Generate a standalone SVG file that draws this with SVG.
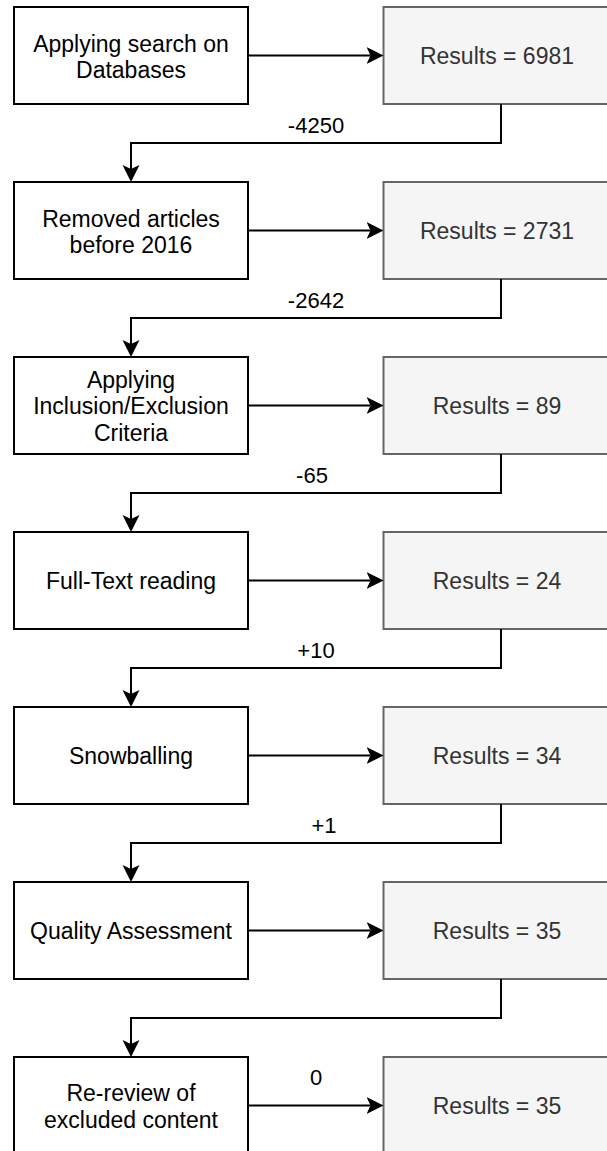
<svg xmlns="http://www.w3.org/2000/svg" width="607" height="1151" viewBox="0 0 607 1151">
  <style>
    .step { fill: #ffffff; stroke: #000000; stroke-width: 2; }
    .result { fill: #f5f5f5; stroke: #666666; stroke-width: 2; }
    .txt { font-family: "Liberation Sans", Arial, sans-serif; font-size: 23px; text-anchor: middle; fill: #000000; }
    .rtxt { font-family: "Liberation Sans", Arial, sans-serif; font-size: 23px; text-anchor: middle; fill: #333333; }
    .lbl { font-family: "Liberation Sans", Arial, sans-serif; font-size: 22px; text-anchor: middle; fill: #000000; }
    .edge { fill: none; stroke: #000000; stroke-width: 2; }
  </style>
  <defs>
    <marker id="arrow" viewBox="0 0 18 18" refX="4" refY="9" markerWidth="18" markerHeight="18" markerUnits="userSpaceOnUse" orient="auto">
      <path d="M17,9 L0,0.5 L4,9 L0,17.5 Z" fill="#000000"/>
    </marker>
  </defs>

  <rect width="607" height="1151" fill="#ffffff"/>

  <!-- process steps (left column) -->
  <g id="step-search">
    <rect class="step" x="14" y="7" width="234" height="97"/>
    <text class="txt" x="131" y="51.5">Applying search on</text>
    <text class="txt" x="131" y="78">Databases</text>
  </g>
  <g id="step-date">
    <rect class="step" x="14" y="182" width="234" height="97"/>
    <text class="txt" x="131" y="226.5">Removed articles</text>
    <text class="txt" x="131" y="253">before 2016</text>
  </g>
  <g id="step-criteria">
    <rect class="step" x="14" y="357" width="234" height="97"/>
    <text class="txt" x="131" y="387.5">Applying</text>
    <text class="txt" x="131" y="414">Inclusion/Exclusion</text>
    <text class="txt" x="131" y="440.5">Criteria</text>
  </g>
  <g id="step-fulltext">
    <rect class="step" x="14" y="532" width="234" height="97"/>
    <text class="txt" x="131" y="588.5">Full-Text reading</text>
  </g>
  <g id="step-snowball">
    <rect class="step" x="14" y="707" width="234" height="97"/>
    <text class="txt" x="131" y="763.5">Snowballing</text>
  </g>
  <g id="step-quality">
    <rect class="step" x="14" y="882" width="234" height="97"/>
    <text class="txt" x="131" y="938.5">Quality Assessment</text>
  </g>
  <g id="step-rereview">
    <rect class="step" x="14" y="1057" width="234" height="97"/>
    <text class="txt" x="131" y="1101">Re-review of</text>
    <text class="txt" x="131" y="1127.5">excluded content</text>
  </g>

  <!-- result counts (right column) -->
  <g id="result-1">
    <rect class="result" x="383.5" y="7" width="234" height="97"/>
    <text class="rtxt" x="497" y="63.5">Results = 6981</text>
  </g>
  <g id="result-2">
    <rect class="result" x="383.5" y="182" width="234" height="97"/>
    <text class="rtxt" x="497" y="238.5">Results = 2731</text>
  </g>
  <g id="result-3">
    <rect class="result" x="383.5" y="357" width="234" height="97"/>
    <text class="rtxt" x="497" y="413.5">Results = 89</text>
  </g>
  <g id="result-4">
    <rect class="result" x="383.5" y="532" width="234" height="97"/>
    <text class="rtxt" x="497" y="588.5">Results = 24</text>
  </g>
  <g id="result-5">
    <rect class="result" x="383.5" y="707" width="234" height="97"/>
    <text class="rtxt" x="497" y="763.5">Results = 34</text>
  </g>
  <g id="result-6">
    <rect class="result" x="383.5" y="882" width="234" height="97"/>
    <text class="rtxt" x="497" y="938.5">Results = 35</text>
  </g>
  <g id="result-7">
    <rect class="result" x="383.5" y="1057" width="234" height="97"/>
    <text class="rtxt" x="497" y="1113.5">Results = 35</text>
  </g>

  <!-- connectors -->
  <g id="connectors">
    <path class="edge" d="M248,55.5 H370.5" marker-end="url(#arrow)"/>
    <path class="edge" d="M248,230.5 H370.5" marker-end="url(#arrow)"/>
    <path class="edge" d="M248,405.5 H370.5" marker-end="url(#arrow)"/>
    <path class="edge" d="M248,580.5 H370.5" marker-end="url(#arrow)"/>
    <path class="edge" d="M248,755.5 H370.5" marker-end="url(#arrow)"/>
    <path class="edge" d="M248,930.5 H370.5" marker-end="url(#arrow)"/>
    <path class="edge" d="M248,1105.5 H370.5" marker-end="url(#arrow)"/>

    <path class="edge" d="M501,104 V143 H131 V169" marker-end="url(#arrow)"/>
    <path class="edge" d="M501,279 V318 H131 V344" marker-end="url(#arrow)"/>
    <path class="edge" d="M501,454 V493 H131 V519" marker-end="url(#arrow)"/>
    <path class="edge" d="M501,629 V668 H131 V694" marker-end="url(#arrow)"/>
    <path class="edge" d="M501,804 V843 H131 V869" marker-end="url(#arrow)"/>
    <path class="edge" d="M501,979 V1018 H131 V1044" marker-end="url(#arrow)"/>

    <text class="lbl" x="316" y="133">-4250</text>
    <text class="lbl" x="316" y="308">-2642</text>
    <text class="lbl" x="312" y="483">-65</text>
    <text class="lbl" x="316" y="658">+10</text>
    <text class="lbl" x="324" y="833">+1</text>
    <text class="lbl" x="316" y="1085">0</text>
  </g>
</svg>
